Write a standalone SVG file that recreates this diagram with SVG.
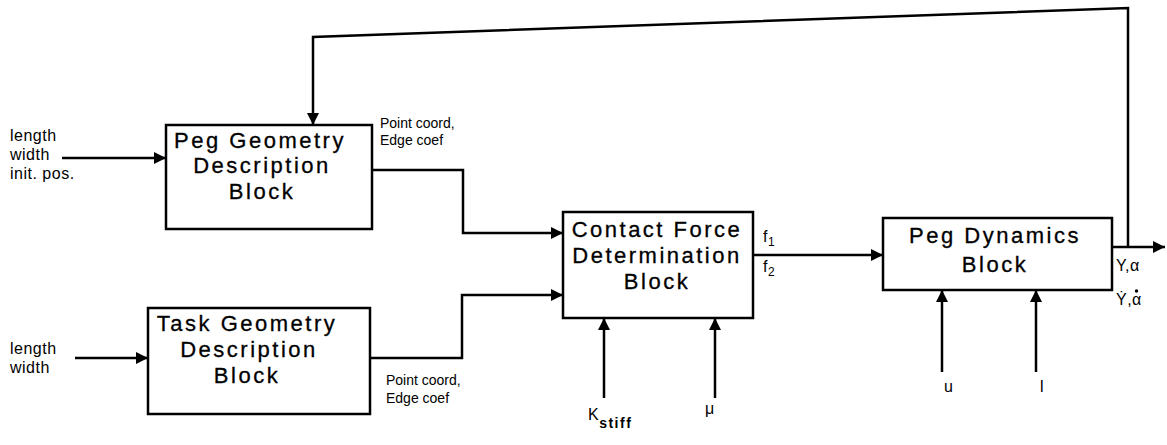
<svg xmlns="http://www.w3.org/2000/svg" width="1167" height="445" viewBox="0 0 1167 445">
<defs>
<marker id="ah" viewBox="0 0 10 10" refX="10" refY="5" markerWidth="18" markerHeight="12" markerUnits="userSpaceOnUse" orient="auto">
<path d="M0,0 L10,5 L0,10 z" fill="#000"/>
</marker>
</defs>
<style>
.box{fill:#fff;stroke:#000;stroke-width:2.5}
.bt{font-family:"Liberation Sans",Arial,sans-serif;font-size:22px;letter-spacing:2.5px;text-anchor:middle;fill:#000;stroke:#000;stroke-width:0.3}
.lb{font-family:"Liberation Sans",Arial,sans-serif;font-size:16px;letter-spacing:0.5px;fill:#000}
.sm{font-family:"Liberation Sans",Arial,sans-serif;font-size:14px;fill:#000}
.ln{fill:none;stroke:#000;stroke-width:2.5;marker-end:url(#ah)}
</style>
<g id="connectors">
<path class="ln" d="M62,158 L166,158"/>
<path class="ln" d="M1128,247 L1128,8 L313,37 L313,125"/>
<path class="ln" d="M372,170 L463,170 L463,233 L563,233"/>
<path class="ln" d="M75,358 L148,358"/>
<path class="ln" d="M370,358 L462,358 L462,295 L563,295"/>
<path class="ln" d="M604,398 L604,318"/>
<path class="ln" d="M715,398 L715,318"/>
<path class="ln" d="M753,255 L883,255"/>
<path class="ln" d="M942,372 L942,290"/>
<path class="ln" d="M1036,372 L1036,290"/>
<path class="ln" d="M1112,247 L1165,247"/>
</g>
<g id="inputs-peg">
<text class="lb" x="10" y="141">length</text>
<text class="lb" x="10" y="160">width</text>
<text class="lb" x="10" y="179">init. pos.</text>
</g>
<g id="peg-geometry">
<rect class="box" x="166" y="125" width="206" height="104"/>
<text class="bt" x="260" y="148">Peg Geometry</text>
<text class="bt" x="262" y="173">Description</text>
<text class="bt" x="262" y="199">Block</text>
</g>
<g id="peg-out-label">
<text class="sm" x="380" y="128">Point coord,</text>
<text class="sm" x="380" y="145">Edge coef</text>
</g>
<g id="inputs-task">
<text class="lb" x="10" y="354">length</text>
<text class="lb" x="10" y="373">width</text>
</g>
<g id="task-geometry">
<rect class="box" x="148" y="308" width="222" height="106"/>
<text class="bt" x="247" y="331">Task Geometry</text>
<text class="bt" x="249" y="357">Description</text>
<text class="bt" x="247" y="383">Block</text>
</g>
<g id="task-out-label">
<text class="sm" x="386" y="385">Point coord,</text>
<text class="sm" x="386" y="403">Edge coef</text>
</g>
<g id="contact-force">
<rect class="box" x="563" y="212" width="190" height="106"/>
<text class="bt" x="657" y="237">Contact Force</text>
<text class="bt" x="657" y="263">Determination</text>
<text class="bt" x="657" y="289">Block</text>
</g>
<g id="cf-labels">
<text class="lb" x="763" y="242" font-size="17">f<tspan font-size="12" dy="4">1</tspan></text>
<text class="lb" x="763" y="272" font-size="17">f<tspan font-size="12" dy="4">2</tspan></text>
<text class="lb" x="588" y="420" font-size="22">K<tspan font-size="14" dy="8" letter-spacing="1.5" font-weight="bold">stiff</tspan></text>
<text class="lb" x="705" y="414" font-size="20">μ</text>
</g>
<g id="peg-dynamics">
<rect class="box" x="883" y="218" width="229" height="72"/>
<text class="bt" x="995" y="243">Peg  Dynamics</text>
<text class="bt" x="995" y="272">Block</text>
</g>
<g id="pd-labels">
<text class="lb" x="944" y="392" font-size="18">u</text>
<text class="lb" x="1040" y="392" font-size="18">l</text>
<text class="lb" x="1116" y="271" font-size="18">Y,α</text>
<text class="lb" x="1116" y="305" font-size="18">Ẏ,α</text>
<circle cx="1136.5" cy="291" r="1.7" fill="#000"/>
</g>
</svg>
